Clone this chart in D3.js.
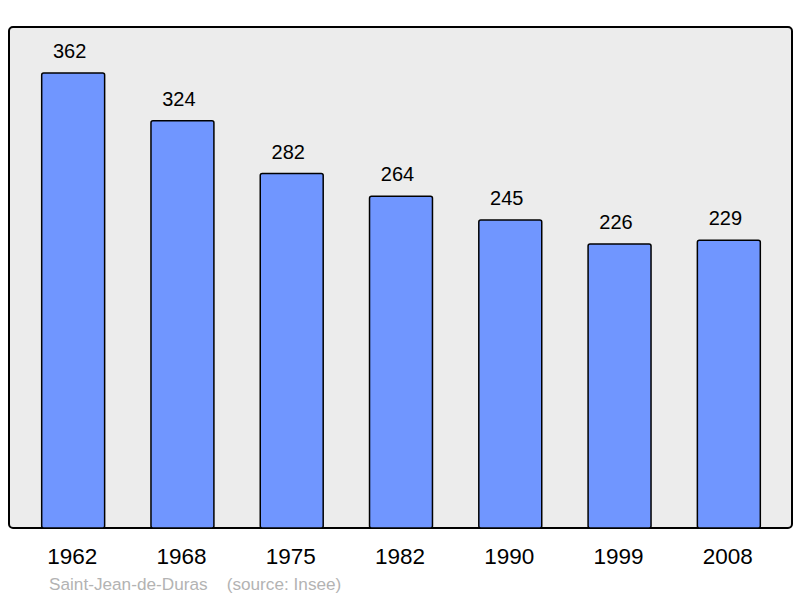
<!DOCTYPE html>
<html><head><meta charset="utf-8">
<script src="https://d3js.org/d3.v7.min.js"></script>
<style>body{margin:0;background:#fff}svg{display:block}</style>
</head><body>
<script>
const years = ["1962","1968","1975","1982","1990","1999","2008"];
const population = [362,324,282,264,245,226,229];
const commune = "Saint-Jean-de-Duras";
const sourceText = "(source: Insee)";

const W=800,H=598;
const svg=d3.select("body").append("svg").attr("width",W).attr("height",H);
const panel={x:9,y:27,w:783,h:501};
svg.append("rect").attr("x",panel.x).attr("y",panel.y).attr("width",panel.w).attr("height",panel.h)
  .attr("rx",4).attr("fill","#ececec").attr("stroke","#000").attr("stroke-width",2);

const x=d3.scaleBand().domain(years).range([10,792]).paddingInner(0.424).paddingOuter(0.29);
const y=d3.scaleLinear().domain([0,398.6]).range([528,27]);

const data=years.map((d,i)=>({year:d,v:population[i]}));
svg.selectAll("rect.bar").data(data).join("rect").attr("class","bar")
  .attr("x",d=>x(d.year)).attr("y",d=>y(d.v)).attr("width",x.bandwidth()).attr("height",d=>y(0)-y(d.v))
  .attr("rx",2).attr("fill","#7096ff").attr("stroke","#000").attr("stroke-width",1.5);

svg.selectAll("text.val").data(data).join("text").attr("class","val")
  .attr("x",d=>x(d.year)+x.bandwidth()/2-3.5).attr("y",d=>y(d.v)-15)
  .attr("text-anchor","middle").attr("font-family","Liberation Sans, Arial, sans-serif")
  .attr("font-size",20).attr("fill","#000").text(d=>d.v);

svg.selectAll("text.yr").data(data).join("text").attr("class","yr")
  .attr("x",d=>x(d.year)+x.bandwidth()/2-1).attr("y",564)
  .attr("text-anchor","middle").attr("font-family","Liberation Sans, Arial, sans-serif")
  .attr("font-size",22.5).attr("fill","#000").text(d=>d.year);

svg.append("text").attr("x",49).attr("y",590).attr("font-family","Liberation Sans, Arial, sans-serif")
  .attr("font-size",17.2).attr("fill","#b3b3b3").attr("xml:space","preserve")
  .text(commune+"    "+sourceText);
</script>
</body></html>
